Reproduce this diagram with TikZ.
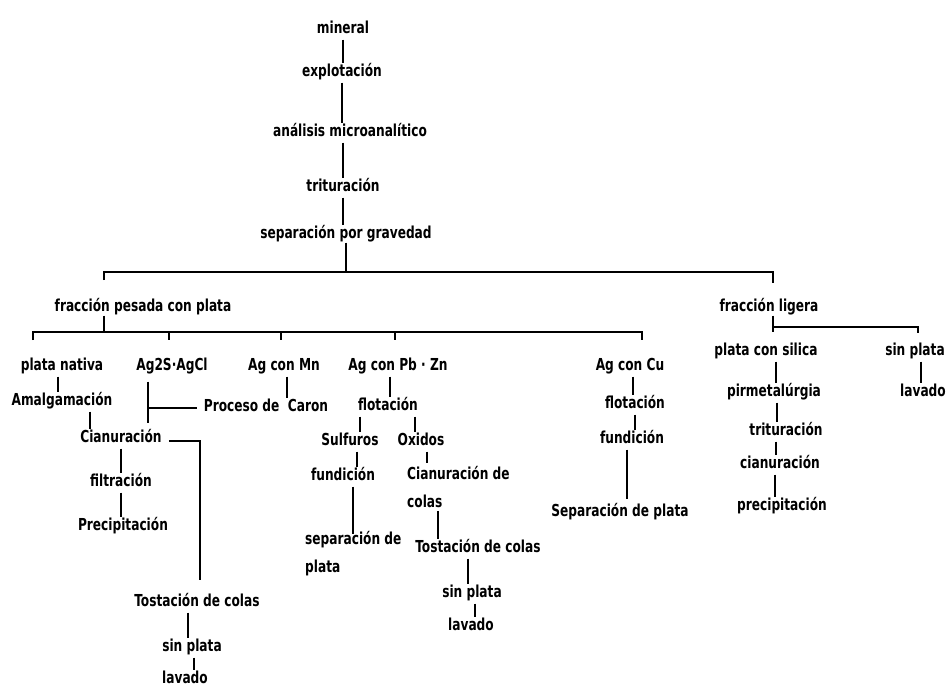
\documentclass[tikz,border=0pt]{standalone}
\usepackage{fontspec}
\setmainfont{DejaVu Sans Condensed}[FakeStretch=0.82]
\usepackage{tikz}

\tikzset{
  lbl/.style={font=\bfseries\fontsize{16.5}{19}\selectfont, text height=10pt, text depth=3pt, inner sep=1pt},
  lbltwo/.style={font=\bfseries\fontsize{16.5}{19}\selectfont, align=left, inner sep=1pt, anchor=north west},
  link/.style={line width=1.5pt, shorten <=2pt, shorten >=2pt},
  bus/.style={line width=1.5pt},
}

\begin{document}
\begin{tikzpicture}[x=1pt,y=-1pt]
        \useasboundingbox (0,0) rectangle (946,688);
        % main trunk
        \node[lbl] (mineral) at (343,30) {mineral};
        \node[lbl] (explot) at (342,73) {explotación};
        \node[lbl] (analisis) at (350,133) {análisis microanalítico};
        \node[lbl] (trit) at (343,188) {trituración};
        \node[lbl] (separ) at (346,235) {separación por gravedad};
        \draw[link] (mineral.south) -- (mineral.south |- explot.north);
        \draw[link] (explot.south) -- (explot.south |- analisis.north);
        \draw[link] (trit.north |- analisis.south) -- (trit.north);
        \draw[link] (trit.south) -- (trit.south |- separ.north);
        % first split
        \node[lbl] (pesada) at (143,308) {fracción pesada con plata};
        \node[lbl] (ligera) at (769,308) {fracción ligera};
        \coordinate (busL) at (104,272);
        \coordinate (busR) at (773,272);
        \draw[bus] (separ.south) -- (separ.south |- busL);
        \draw[bus] ([yshift=-8pt]busL) -- (busL) -- (busR) -- ([yshift=-11pt]busR);
        % heavy fraction
        \node[lbl] (nativa) at (62,367) {plata nativa};
        \node[lbl] (agcl) at (172,367) {Ag2S·AgCl};
        \node[lbl] (agmn) at (284,367) {Ag con Mn};
        \node[lbl] (agpbzn) at (398,367) {Ag con Pb · Zn};
        \node[lbl] (agcu) at (630,367) {Ag con Cu};
        \coordinate (busPL) at (33,332);
        \coordinate (busPR) at (642,332);
        \draw[bus] (pesada.south -| busL) -- (busL |- busPL);
        \draw[bus] ([yshift=-8pt]busPL) -- (busPL) -- (busPR) -- ([yshift=-8pt]busPR);
        \foreach \n in {agcl,agmn,agpbzn}
          \draw[bus] ([xshift=-3pt]\n.north |- busPL) -- ++(0,8);
        % plata nativa / Ag2S-AgCl
        \node[lbl] (amalg) at (62,402) {Amalgamación};
        \node[lbl] (caron) at (266,408) {Proceso de \ Caron};
        \node[lbl] (cian) at (121,439) {Cianuración};
        \node[lbl] (filt) at (121,483) {filtración};
        \node[lbl] (precip) at (123,527) {Precipitación};
        \node[lbl] (tost) at (197,603) {Tostación de colas};
        \node[lbl] (sinplata) at (192,648) {sin plata};
        \node[lbl] (lavado) at (185,680) {lavado};
        \draw[link] ([xshift=-4pt]nativa.south) -- ([xshift=-4pt]nativa.south |- amalg.north);
        \draw[link] ([xshift=28pt]amalg.south) -- ([xshift=28pt]amalg.south |- cian.north);
        \draw[bus, shorten <=7pt, shorten >=8pt] ([xshift=-24pt]agcl.south) -- ([xshift=-24pt]agcl.south |- cian.north);
        \draw[bus] ([xshift=-24pt]agcl.south |- caron.west) -- ([xshift=-6pt]caron.west);
        \draw[link] ([xshift=3pt]agmn.south) -- ([xshift=3pt]agmn.south |- caron.north);
        \draw[bus] ([xshift=6pt,yshift=-2pt]cian.east) -| ([xshift=3pt,yshift=15pt]tost.north);
        \draw[link] (cian.south) -- (cian.south |- filt.north);
        \draw[link] (filt.south) -- (filt.south |- precip.north);
        \draw[link] ([xshift=-9pt]tost.south) -- ([xshift=-9pt]tost.south |- sinplata.north);
        \draw[link] ([xshift=2pt]sinplata.south) -- ([xshift=2pt]sinplata.south |- lavado.north);
        % Ag con Pb - Zn
        \node[lbl] (flotpb) at (388,407) {flotación};
        \node[lbl] (sulf) at (350,442) {Sulfuros};
        \node[lbl] (oxid) at (421,442) {Oxidos};
        \node[lbl] (fundpb) at (343,477) {fundición};
        \node[lbltwo] (seppl) at (304,530) {separación de\\[9pt]plata};
        \node[lbltwo] (cianco) at (406,465) {Cianuración de\\[9pt]colas};
        \node[lbl] (tostox) at (478,549) {Tostación de colas};
        \node[lbl] (sinplox) at (472,594) {sin plata};
        \node[lbl] (lavox) at (471,627) {lavado};
        \draw[link] ([xshift=-8pt]agpbzn.south) -- ([xshift=-8pt]agpbzn.south |- flotpb.north);
        \draw[link] ([xshift=10pt]sulf.north |- flotpb.south) -- ([xshift=10pt]sulf.north);
        \draw[link] ([xshift=-6pt]oxid.north |- flotpb.south) -- ([xshift=-6pt]oxid.north);
        \draw[link] ([xshift=7pt]sulf.south) -- ([xshift=7pt]sulf.south |- fundpb.north);
        \draw[link] ([xshift=10pt]fundpb.south) -- ([xshift=10pt,yshift=-6pt]fundpb.south |- seppl.north);
        \draw[link] ([xshift=6pt]oxid.south) -- ([xshift=6pt]oxid.south |- cianco.north);
        \draw[link] ([xshift=-40pt]tostox.north |- cianco.south) -- ([xshift=-40pt]tostox.north);
        \draw[link] ([xshift=-10pt]tostox.south) -- ([xshift=-10pt]tostox.south |- sinplox.north);
        \draw[link] ([xshift=3pt]sinplox.south) -- ([xshift=3pt]sinplox.south |- lavox.north);
        % Ag con Cu
        \node[lbl] (flotcu) at (635,405) {flotación};
        \node[lbl] (fundcu) at (632,440) {fundición};
        \node[lbl] (sepcu) at (620,513) {Separación de plata};
        \draw[link] ([xshift=3pt]agcu.south) -- ([xshift=3pt]agcu.south |- flotcu.north);
        \draw[link] (flotcu.south) -- (flotcu.south |- fundcu.north);
        \draw[link] ([xshift=-5pt]fundcu.south) -- ([xshift=-5pt,yshift=4pt]fundcu.south |- sepcu.north);
        % light fraction
        \node[lbl] (silica) at (766,352) {plata con silica};
        \node[lbl] (sinplr) at (915,352) {sin plata};
        \node[lbl] (lavr) at (923,393) {lavado};
        \node[lbl] (pirmet) at (774,393) {pirmetalúrgia};
        \node[lbl] (tritr) at (786,432) {trituración};
        \node[lbl] (cianr) at (780,465) {cianuración};
        \node[lbl] (precr) at (782,507) {precipitación};
        \coordinate (brL) at (773,327);
        \draw[bus] (ligera.south -| busR) -- ([yshift=12pt]silica.north -| busR);
        \draw[bus] (brL) -- ([xshift=3pt]brL -| sinplr) -- ([xshift=3pt,yshift=-6pt]brL -| sinplr);
        \draw[link] ([xshift=10pt]silica.south) -- ([xshift=10pt]silica.south |- pirmet.north);
        \draw[link] ([xshift=3pt]pirmet.south) -- ([xshift=3pt]pirmet.south |- tritr.north);
        \draw[link] ([xshift=-10pt]tritr.south) -- ([xshift=-10pt]tritr.south |- cianr.north);
        \draw[link] ([xshift=-5pt]cianr.south) -- ([xshift=-5pt]cianr.south |- precr.north);
        \draw[link] ([xshift=6pt]sinplr.south) -- ([xshift=6pt]sinplr.south |- lavr.north);
\end{tikzpicture}
\end{document}
